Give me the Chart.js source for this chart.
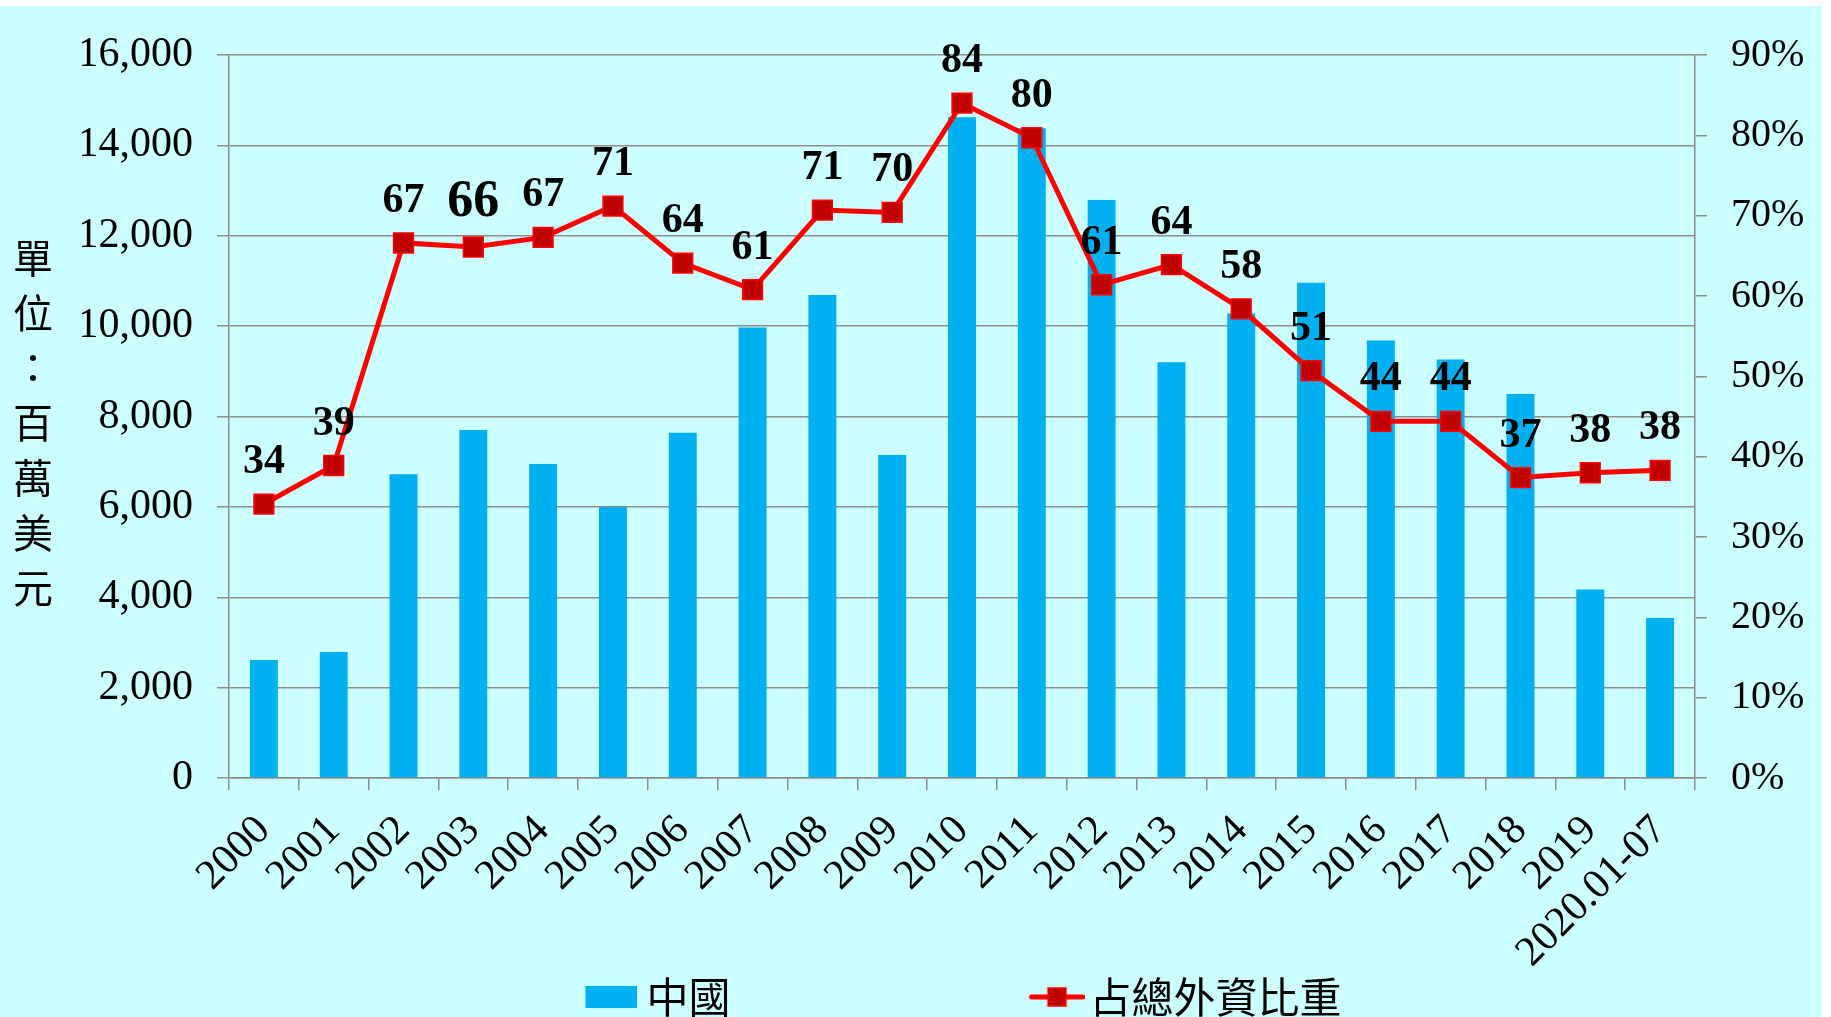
<!DOCTYPE html>
<html>
<head>
<meta charset="utf-8">
<script src="https://cdn.jsdelivr.net/npm/chart.js@4.4.1/dist/chart.umd.min.js"></script>
<style>
html,body{margin:0;padding:0;background:#ffffff;}
canvas{display:block;}
</style>
</head>
<body>
<canvas id="c" width="1831" height="1017"></canvas>
<script>
// ---- data ----
const categories = ['2000','2001','2002','2003','2004','2005','2006','2007','2008','2009',
  '2010','2011','2012','2013','2014','2015','2016','2017','2018','2019','2020.01-07'];
const chinaValues = [2610, 2790, 6720, 7700, 6950, 6000, 7640, 9970, 10690, 7150,
  14620, 14380, 12790, 9200, 10280, 10960, 9680, 9260, 8500, 4170, 3540];
const shareValues = [34.1, 38.9, 66.6, 66.1, 67.3, 71.2, 64.1, 60.8, 70.7, 70.4,
  84.0, 79.7, 61.4, 63.9, 58.4, 50.7, 44.4, 44.4, 37.4, 38.0, 38.3];
const seriesNames = ['中國', '占總外資比重'];
const yAxisTitle = '單位：百萬美元';

// ---- styles ----
const GRID = '#8c8c8c';
const BAR = '#00B0F0';
const LINE = '#FF0000';
const MARK = '#C00000';
const SERIF = '"Liberation Serif", "Times New Roman", serif';
const CJK = '"Noto Sans CJK TC", "Noto Sans CJK SC", sans-serif';
Chart.defaults.font.family = SERIF;
Chart.defaults.color = '#000';

// legend icons (drawn offset to the right inside a wider canvas to mimic the tighter gap)
const barIcon = (() => {
  const c = document.createElement('canvas');
  c.width = 78; c.height = 22;
  const g = c.getContext('2d');
  g.fillStyle = BAR; g.fillRect(26, 0, 52, 22);
  return c;
})();
const lineIcon = (() => {
  const c = document.createElement('canvas');
  c.width = 86; c.height = 24;
  const g = c.getContext('2d');
  g.strokeStyle = LINE; g.lineWidth = 5; g.lineCap = 'round';
  g.beginPath(); g.moveTo(33, 12); g.lineTo(84, 12); g.stroke();
  g.fillStyle = MARK; g.fillRect(49.5, 3, 18, 18);
  g.lineWidth = 1.5; g.strokeRect(49.5, 3, 18, 18);
  return c;
})();

const bgPlugin = {
  id: 'bg',
  beforeDraw(chart) {
    const ctx = chart.ctx;
    ctx.save();
    ctx.fillStyle = '#ffffff';
    ctx.fillRect(0, 0, chart.width, chart.height);
    ctx.fillStyle = '#CCFFFF';
    ctx.fillRect(0, 6, chart.width - 9, chart.height - 6);
    ctx.restore();
  }
};

const titlePlugin = {
  id: 'vtitle',
  afterDraw(chart) {
    const ctx = chart.ctx;
    const area = chart.chartArea;
    const chars = Array.from(yAxisTitle);
    const step = 55;
    const cx = chart.scales.y.left - 49;
    const cy = (area.top + area.bottom) / 2 + 6;
    const start = cy - step * (chars.length - 1) / 2;
    ctx.save();
    ctx.fillStyle = '#000';
    ctx.font = '40px ' + CJK;
    ctx.textAlign = 'center';
    ctx.textBaseline = 'middle';
    chars.forEach((ch, i) => ctx.fillText(ch, cx, start + i * step));
    ctx.restore();
  }
};

const labelPlugin = {
  id: 'pointLabels',
  afterDatasetsDraw(chart) {
    const meta = chart.getDatasetMeta(1);
    const ctx = chart.ctx;
    ctx.save();
    ctx.fillStyle = '#000';
    ctx.textAlign = 'center';
    ctx.textBaseline = 'alphabetic';
    meta.data.forEach((pt, i) => {
      const size = i === 3 ? 52 : 42;
      ctx.font = 'bold ' + size + 'px ' + SERIF;
      ctx.fillText(String(Math.round(shareValues[i])), pt.x, pt.y - 31);
    });
    ctx.restore();
  }
};

new Chart(document.getElementById('c'), {
  data: {
    labels: categories,
    datasets: [
      {
        type: 'bar', label: seriesNames[0], data: chinaValues,
        backgroundColor: BAR, borderWidth: 0, yAxisID: 'y', order: 2,
        barPercentage: 0.4, categoryPercentage: 1
      },
      {
        type: 'line', label: seriesNames[1], data: shareValues,
        yAxisID: 'y1', order: 1, borderColor: LINE, borderWidth: 5,
        pointStyle: 'rect', pointRadius: 14, pointBackgroundColor: MARK,
        pointBorderColor: LINE, pointBorderWidth: 1.5, tension: 0
      }
    ]
  },
  options: {
    responsive: false,
    animation: false,
    layout: { padding: { left: 82, right: 0, top: 55, bottom: -11 } },
    plugins: {
      tooltip: { enabled: false },
      legend: {
        display: true,
        position: 'bottom',
        align: 'center',
        labels: {
          usePointStyle: true,
          pointStyleWidth: 54,
          boxHeight: 22,
          padding: 10,
          color: '#000',
          font: { family: CJK, size: 42 },
          generateLabels: () => [
            { text: seriesNames[0], fillStyle: BAR, strokeStyle: BAR, lineWidth: 0, pointStyle: barIcon, hidden: false, datasetIndex: 0 },
            { text: '\u3000\u3000\u3000\u3000\u2002', fillStyle: 'rgba(0,0,0,0)', strokeStyle: 'rgba(0,0,0,0)', lineWidth: 0, pointStyle: 'rect', hidden: false },
            { text: seriesNames[1], fillStyle: MARK, strokeStyle: LINE, lineWidth: 0, pointStyle: lineIcon, hidden: false, datasetIndex: 1 }
          ]
        }
      }
    },
    scales: {
      x: {
        type: 'category',
        offset: true,
        grid: { display: true, drawOnChartArea: false, drawTicks: true, tickLength: 12, color: GRID, lineWidth: 1.5, offset: true },
        border: { display: true, color: GRID, width: 1.5 },
        ticks: { maxRotation: 45, minRotation: 45, autoSkip: false, padding: 16, color: '#000', font: { size: 42 } },
        afterFit: (s) => { s.height = 188; }
      },
      y: {
        position: 'left', min: 0, max: 16000,
        ticks: { stepSize: 2000, padding: 24, color: '#000', font: { size: 42 },
          callback: (v) => Number(v).toLocaleString('en-US') },
        grid: { color: GRID, lineWidth: 1.5, tickLength: 12, drawTicks: true },
        border: { display: true, color: GRID, width: 1.5 },
        afterFit: (s) => { s.width = 147; }
      },
      y1: {
        position: 'right', min: 0, max: 90,
        ticks: { stepSize: 10, padding: 24, color: '#000', font: { size: 40 },
          callback: (v) => v + '%' },
        grid: { drawOnChartArea: false, color: GRID, lineWidth: 1.5, tickLength: 12, drawTicks: true },
        border: { display: true, color: GRID, width: 1.5 },
        afterFit: (s) => { s.width = 136; }
      }
    }
  },
  plugins: [bgPlugin, titlePlugin, labelPlugin]
});
</script>
</body>
</html>
